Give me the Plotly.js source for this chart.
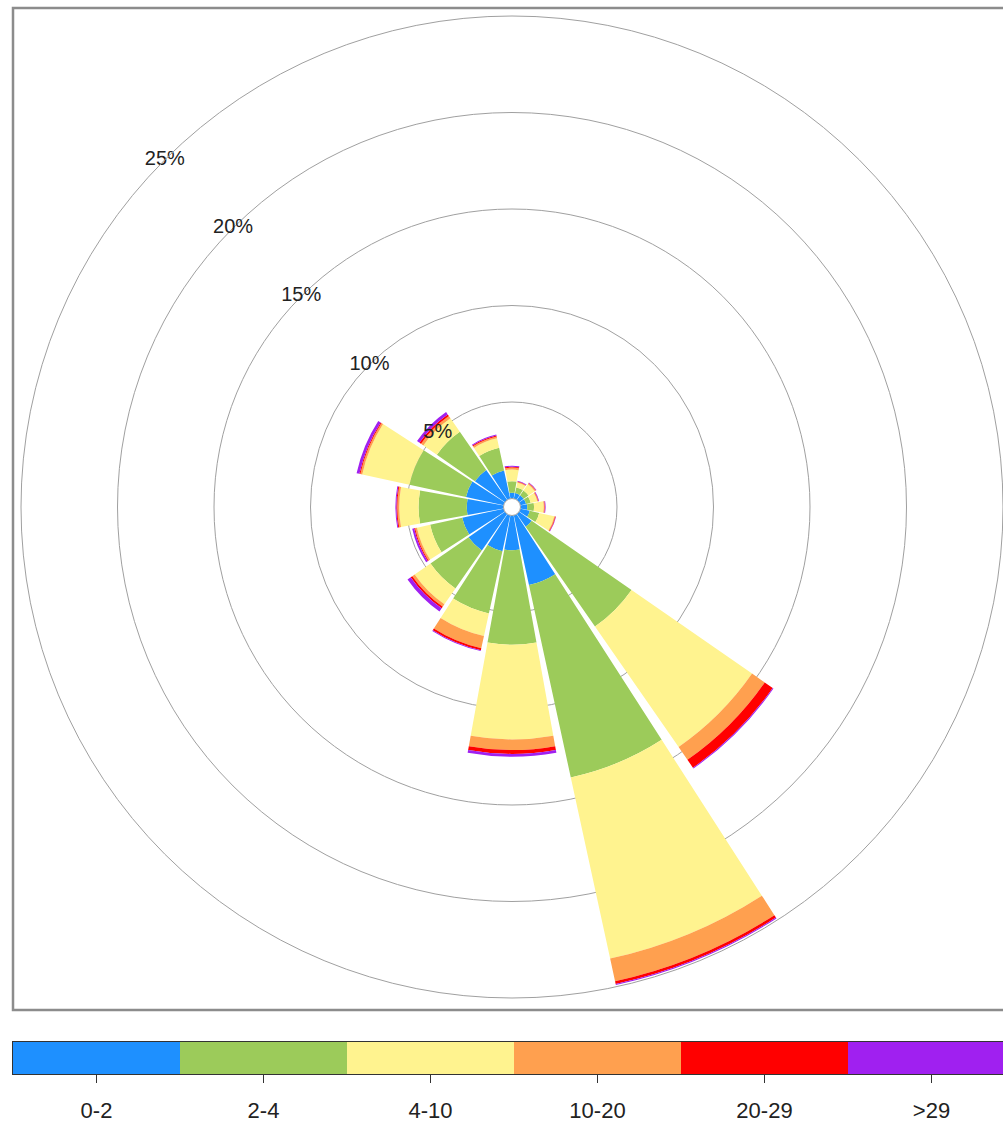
<!DOCTYPE html>
<html>
<head>
<meta charset="utf-8">
<script src="https://cdn.plot.ly/plotly-3.0.1.min.js"></script>
<style>
  html, body { margin: 0; padding: 0; background: #ffffff; overflow: hidden; }
  #chart { width: 1016px; height: 1123px; }
</style>
</head>
<body>
<div id="chart"></div>
<script>
// ---- data (frequency %, per speed bin) ----
const directions = ["N","NNE","NE","ENE","E","ESE","SE","SSE","S","SSW","SW","WSW","W","WNW","NW","NNW"];
const speedBins = ["0-2","2-4","4-10","10-20","20-29",">29"];
const binColors = ["#1e90ff","#9ccb5a","#fff38f","#ffa04f","#ff0000","#a020f0"];

const freq_0_2   = [0.30,0.30,0.30,0.30,0.35,0.50,0.80,3.70,1.80,1.90,2.30,2.20,1.90,2.00,1.90,1.50];
const freq_2_4   = [0.60,0.30,0.30,0.25,0.35,0.50,6.30,10.20,4.90,3.30,2.40,1.70,2.50,3.00,2.40,1.20];
const freq_4_10  = [0.60,0.25,0.40,0.35,0.50,0.80,7.60,9.60,4.90,1.20,1.00,0.70,1.00,2.50,0.85,0.50];
const freq_10_20 = [0.10,0.05,0.05,0.05,0.05,0.05,0.80,1.20,0.55,0.65,0.15,0.10,0.10,0.10,0.15,0.10];
const freq_20_29 = [0.05,0.02,0.03,0.02,0.02,0.03,0.50,0.15,0.20,0.10,0.10,0.05,0.05,0.05,0.10,0.05];
const freq_gt29  = [0.05,0.03,0.02,0.03,0.03,0.02,0.05,0.05,0.15,0.05,0.20,0.10,0.05,0.15,0.15,0.05];

const ringValues = [5,10,15,20,25];
const ringLabelDirection = "NW";

// ---- build figure ----
const W = 1016, H = 1123;
const binSeries = [freq_0_2, freq_2_4, freq_4_10, freq_10_20, freq_20_29, freq_gt29];
const FONT = "Liberation Sans, Arial, Helvetica, sans-serif";

const traces = binSeries.map((vals, i) => ({
  type: "barpolar",
  subplot: "polar",
  r: vals,
  theta: directions,
  name: speedBins[i],
  width: 0.91,
  marker: { color: binColors[i], line: { width: 0 } },
  hoverinfo: "skip",
  showlegend: false
}));

traces.push({
  type: "scatterpolar",
  subplot: "polar",
  mode: "text",
  r: ringValues,
  theta: ringValues.map(() => ringLabelDirection),
  text: ringValues.map(v => v + "%"),
  textposition: "middle center",
  textfont: { family: FONT, size: 20, color: "#222222" },
  hoverinfo: "skip",
  showlegend: false
});

// colour key along the bottom
traces.push({
  type: "bar",
  xaxis: "x",
  yaxis: "y",
  x: speedBins,
  y: speedBins.map(() => 1),
  width: 1,
  marker: { color: binColors, line: { width: 0 } },
  hoverinfo: "skip",
  showlegend: false
});

const cx = 512, cy = 507, R = 491, hole = 8.5;

const layout = {
  width: W,
  height: H,
  margin: { l: 0, r: 0, t: 0, b: 0 },
  paper_bgcolor: "#ffffff",
  plot_bgcolor: "#ffffff",
  showlegend: false,
  font: { family: FONT, size: 16, color: "#222222" },
  polar: {
    domain: {
      x: [(cx - R) / W, (cx + R) / W],
      y: [(H - (cy + R)) / H, (H - (cy - R)) / H]
    },
    bgcolor: "#ffffff",
    hole: hole / R,
    barmode: "stack",
    bargap: 0,
    radialaxis: {
      range: [0, 25],
      tickvals: ringValues,
      showticklabels: false,
      ticks: "",
      showline: false,
      showgrid: true,
      gridcolor: "#a0a0a0",
      gridwidth: 1
    },
    angularaxis: {
      type: "category",
      categoryarray: directions,
      rotation: 90,
      direction: "clockwise",
      showticklabels: false,
      ticks: "",
      showgrid: false,
      showline: true,
      linecolor: "#a0a0a0",
      linewidth: 1
    }
  },
  xaxis: {
    domain: [13 / W, 1015 / W],
    anchor: "y",
    type: "category",
    range: [-0.5, 5.5],
    showline: true,
    mirror: true,
    linecolor: "#333333",
    linewidth: 1,
    ticks: "outside",
    ticklen: 8,
    tickwidth: 1,
    tickcolor: "#333333",
    ticklabelstandoff: 9,
    tickfont: { family: FONT, size: 22, color: "#222222" },
    showgrid: false,
    zeroline: false,
    fixedrange: true
  },
  yaxis: {
    domain: [(H - 1074) / H, (H - 1042) / H],
    anchor: "x",
    range: [0, 1],
    showline: true,
    mirror: true,
    linecolor: "#333333",
    linewidth: 1,
    showticklabels: false,
    ticks: "",
    showgrid: false,
    zeroline: false,
    fixedrange: true
  },
  shapes: [{
    type: "rect",
    xref: "paper", yref: "paper",
    x0: 13 / W, x1: 1011 / W,
    y0: (H - 1010) / H, y1: (H - 8) / H,
    line: { color: "#8c8c8c", width: 2.5 },
    fillcolor: "rgba(0,0,0,0)",
    layer: "below"
  }]
};

Plotly.newPlot("chart", traces, layout, { staticPlot: true, displayModeBar: false });
</script>
</body>
</html>
